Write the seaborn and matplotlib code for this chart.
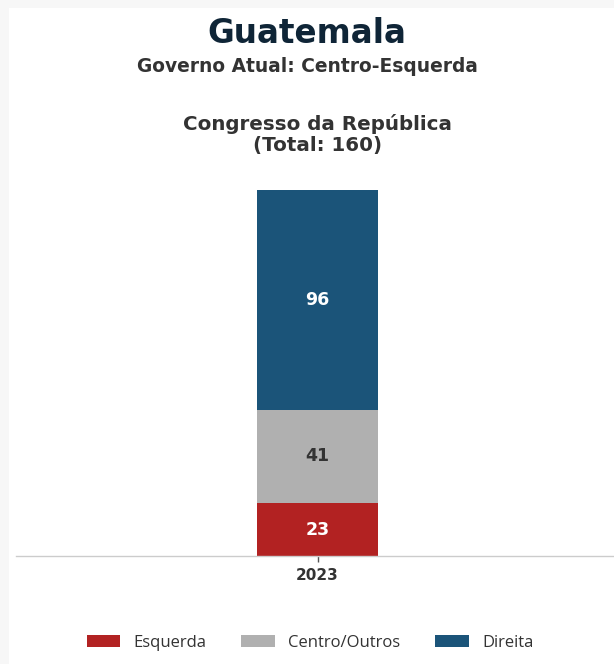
import numpy as np
import pandas as pd
import matplotlib
matplotlib.use("Agg")
import matplotlib.pyplot as plt
from matplotlib.patches import Patch, Rectangle
import seaborn as sns

# Seat distribution, Congreso de la República (Guatemala)
years = ["2023"]
groups = ["Esquerda", "Centro/Outros", "Direita"]
esquerda = [23]
centro = [41]
direita = [96]
colors = ["#b22222", "#b0b0b0", "#1b5479"]
label_colors = ["white", "#333333", "white"]
total_seats = 160

sns.set_theme(style="white")
plt.rcParams["font.family"] = ["DejaVu Sans"]

fig = plt.figure(figsize=(6.14, 6.64), dpi=100)
fig.patch.set_facecolor("#f7f7f7")
fig.add_artist(Rectangle((9 / 614, 0), 1, 1 - 8 / 664, transform=fig.transFigure,
                         facecolor="white", edgecolor="none", zorder=-10))

ax = fig.add_axes([16 / 614, 1 - 556 / 664, 603 / 614, 402.6 / 664])
ax.set_facecolor("none")

series = [esquerda, centro, direita]
stack = np.cumsum(np.array(series), axis=0)

# draw cumulative totals from the top layer down so each layer shows its share
for i in range(len(groups) - 1, -1, -1):
    df = pd.DataFrame({"ano": years, "assentos": stack[i]})
    sns.barplot(data=df, x="ano", y="assentos", color=colors[i], width=0.4,
                saturation=1, linewidth=0, ax=ax, zorder=2)

# segment value labels
for i, vals in enumerate(series):
    for j, v in enumerate(vals):
        base = stack[i][j] - v
        ax.text(j, base + v / 2, f"{v}", ha="center", va="center",
                fontsize=12.5, fontweight="bold", color=label_colors[i])

ax.set_xlim(-1, 1)
ax.set_ylim(0, total_seats * 1.1)
ax.set_xlabel("")
ax.set_ylabel("")
ax.set_yticks([])
for s in ["top", "left", "right"]:
    ax.spines[s].set_visible(False)
ax.spines["bottom"].set_color("#cccccc")
ax.spines["bottom"].set_linewidth(1.0)
ax.tick_params(axis="x", bottom=True, length=4, width=1, color="#555555",
               labelsize=11, labelcolor="#333333", pad=5)
for lbl in ax.get_xticklabels():
    lbl.set_fontweight("bold")

ax.text(0.5, 1 - (151 - 153.4) / 402.6, f"Congresso da República\n(Total: {total_seats})",
        transform=ax.transAxes, ha="center", va="baseline", fontsize=14.3,
        fontweight="bold", color="#333333", linespacing=1.13)

fig.text(0.5, 1 - 43 / 664, "Guatemala", ha="center", va="baseline",
         fontsize=23.5, fontweight="bold", color="#0f2537")
fig.text(0.5, 1 - 72 / 664, "Governo Atual: Centro-Esquerda", ha="center",
         va="baseline", fontsize=13.4, fontweight="bold", color="#333333")

handles = [Patch(facecolor=c, edgecolor="none", label=g) for g, c in zip(groups, colors)]
fig.legend(handles=handles, loc="center", bbox_to_anchor=(0.5 + 3 / 614, 1 - 643 / 664),
           ncol=3, frameon=False, prop={"family": "Open Sans", "size": 12},
           handlelength=2.0, handleheight=0.7, handletextpad=0.8, columnspacing=2.1,
           labelcolor="#333333")

fig.savefig("out.png", dpi=100, facecolor=fig.get_facecolor())
